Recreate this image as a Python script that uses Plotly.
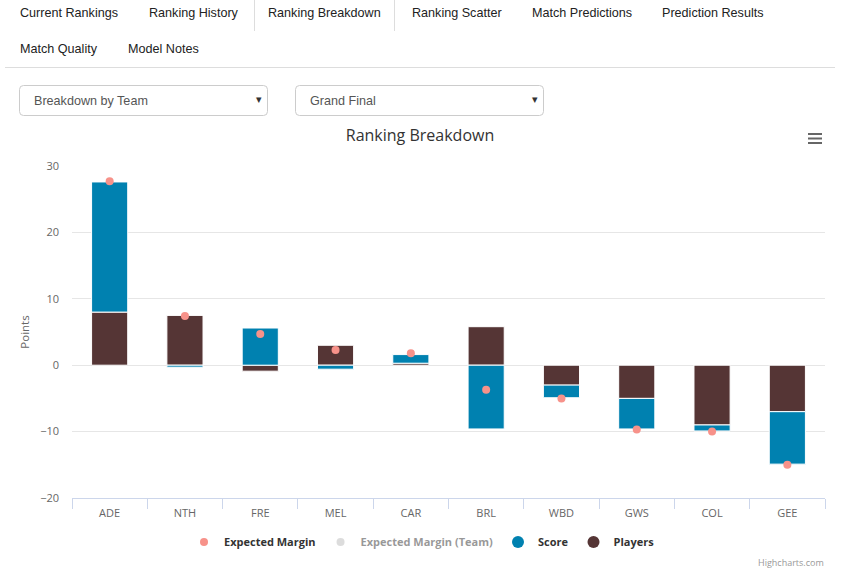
import plotly.graph_objects as go

# ---------------- data ----------------
teams = ["ADE", "NTH", "FRE", "MEL", "CAR", "BRL", "WBD", "GWS", "COL", "GEE"]
players = [8.0, 7.5, -0.9, 3.0, 0.3, 5.8, -3.0, -5.0, -9.0, -7.0]
score = [19.6, -0.3, 5.6, -0.6, 1.3, -9.6, -1.9, -4.6, -0.9, -7.9]
expected_margin = [27.7, 7.4, 4.7, 2.3, 1.8, -3.7, -5.0, -9.7, -10.0, -15.0]
expected_margin_team = [None] * len(teams)  # series hidden in the legend
y_ticks = [-20, -10, 0, 10, 20, 30]

tabs_row1 = ["Current Rankings", "Ranking History", "Ranking Breakdown",
             "Ranking Scatter", "Match Predictions", "Prediction Results"]
tabs_row2 = ["Match Quality", "Model Notes"]
dropdowns = ["Breakdown by Team", "Grand Final"]

# ---------------- geometry helpers ----------------
W, H = 851, 572
L, R, T, B = 72, 26, 166, 74
PW, PH = W - L - R, H - T - B


def px(x):
    return (x - L) / PW


def py(y):
    return (H - B - y) / PH


COL_SCORE = "#0081b0"
COL_PLAYERS = "#553535"
COL_EXP = "#f7928a"
CHART_FONT = "Open Sans"
PAGE_FONT = "Liberation Sans"

fig = go.Figure()

fig.add_trace(go.Bar(
    x=teams, y=players, name="Players", width=0.48,
    marker=dict(color=COL_PLAYERS, line=dict(color="#ffffff", width=1)),
    showlegend=False, legendgroup="players"))
fig.add_trace(go.Bar(
    x=teams, y=score, name="Score", width=0.48,
    marker=dict(color=COL_SCORE, line=dict(color="#ffffff", width=1)),
    showlegend=False, legendgroup="score"))
fig.add_trace(go.Scatter(
    x=teams, y=expected_margin, name="Expected Margin", mode="markers",
    marker=dict(color=COL_EXP, size=8), legendrank=1))
fig.add_trace(go.Scatter(
    x=teams, y=expected_margin_team, name="Expected Margin (Team)", mode="markers",
    marker=dict(color="#bbbbbb", size=8), visible="legendonly", legendrank=2))
# legend entries with circular symbols for the column series
fig.add_trace(go.Scatter(
    x=[None], y=[None], name="Score", mode="markers",
    marker=dict(color=COL_SCORE, size=12), legendgroup="score", legendrank=3))
fig.add_trace(go.Scatter(
    x=[None], y=[None], name="Players", mode="markers",
    marker=dict(color=COL_PLAYERS, size=12), legendgroup="players", legendrank=4))

shapes = []
annotations = []

# tabs
row1_x = [20, 149, 268, 412, 532, 662]
for label, x in zip(tabs_row1, row1_x):
    annotations.append(dict(text=label, x=px(x - 2), y=py(13), xref="paper", yref="paper",
                            xanchor="left", yanchor="middle", showarrow=False,
                            font=dict(family=PAGE_FONT, size=12.6, color="#222222")))
row2_x = [20, 128]
for label, x in zip(tabs_row2, row2_x):
    annotations.append(dict(text=label, x=px(x - 2), y=py(49), xref="paper", yref="paper",
                            xanchor="left", yanchor="middle", showarrow=False,
                            font=dict(family=PAGE_FONT, size=12.6, color="#222222")))
# active tab borders
for x in (254.5, 394.5):
    shapes.append(dict(type="line", xref="paper", yref="paper",
                       x0=px(x), x1=px(x), y0=py(0), y1=py(31),
                       line=dict(color="#dddddd", width=1)))
# underline of the tab bar
shapes.append(dict(type="line", xref="paper", yref="paper",
                   x0=px(5), x1=px(835), y0=py(67.5), y1=py(67.5),
                   line=dict(color="#dddddd", width=1)))


def rounded_rect(x0, y0, x1, y1, r=4):
    rx, ry = r / PW, r / PH
    X0, X1, Y0, Y1 = px(x0), px(x1), py(y0), py(y1)  # Y0 top, Y1 bottom
    return (f"M {X0 + rx} {Y0} L {X1 - rx} {Y0} Q {X1} {Y0} {X1} {Y0 - ry} "
            f"L {X1} {Y1 + ry} Q {X1} {Y1} {X1 - rx} {Y1} "
            f"L {X0 + rx} {Y1} Q {X0} {Y1} {X0} {Y1 + ry} "
            f"L {X0} {Y0 - ry} Q {X0} {Y0} {X0 + rx} {Y0} Z")


box_x = [(19.5, 267.5), (295.5, 543.5)]
for label, (x0, x1) in zip(dropdowns, box_x):
    shapes.append(dict(type="path", xref="paper", yref="paper",
                       path=rounded_rect(x0, 85.5, x1, 115.5),
                       line=dict(color="#cccccc", width=1), fillcolor="#ffffff"))
    annotations.append(dict(text=label, x=px(x0 + 12.5), y=py(100.5), xref="paper", yref="paper",
                            xanchor="left", yanchor="middle", showarrow=False,
                            font=dict(family=PAGE_FONT, size=12.6, color="#555555")))
    annotations.append(dict(text="▾", x=px(x1 - 9), y=py(99.5), xref="paper", yref="paper",
                            xanchor="center", yanchor="middle", showarrow=False,
                            font=dict(family="DejaVu Sans", size=11, color="#333333")))

# context menu (hamburger) icon
for yy in (134, 138.5, 143):
    shapes.append(dict(type="line", xref="paper", yref="paper",
                       x0=px(808), x1=px(822), y0=py(yy), y1=py(yy),
                       line=dict(color="#666666", width=2)))

# credits
annotations.append(dict(text="Highcharts.com", x=px(826), y=py(562), xref="paper", yref="paper",
                        xanchor="right", yanchor="middle", showarrow=False,
                        font=dict(family=CHART_FONT, size=9, color="#999999")))

fig.update_layout(
    width=W, height=H,
    margin=dict(l=L, r=R, t=T, b=B, pad=0),
    paper_bgcolor="#ffffff", plot_bgcolor="#ffffff",
    barmode="relative", bargap=0.52,
    title=dict(text="Ranking Breakdown", x=420 / W, xanchor="center",
               y=1 - 135 / H, yanchor="middle",
               font=dict(family=CHART_FONT, size=16, color="#333333")),
    font=dict(family=CHART_FONT, color="#666666"),
    legend=dict(orientation="h", x=px(422), xanchor="center", y=py(542), yanchor="middle",
                font=dict(family=CHART_FONT, size=11, color="#333333", weight="bold"),
                itemclick=False, itemdoubleclick=False, traceorder="normal"),
    xaxis=dict(type="category", range=[-0.5, len(teams) - 0.5],
               showline=True, linecolor="#ccd6eb", linewidth=1,
               ticks="outside", tickson="boundaries", ticklen=10, tickcolor="#ccd6eb",
               ticklabelstandoff=5,
               showgrid=False, tickfont=dict(family=CHART_FONT, size=11, color="#666666"),
               fixedrange=True),
    yaxis=dict(range=[-20, 30], tickvals=y_ticks, showgrid=True, gridcolor="#e6e6e6",
               zeroline=False, showline=False, ticks="",
               tickfont=dict(family=CHART_FONT, size=11, color="#666666"),
               ticklabelstandoff=12,
               title=dict(text="Points", standoff=8,
                          font=dict(family=CHART_FONT, size=11.5, color="#666666")),
               fixedrange=True),
    shapes=shapes, annotations=annotations,
    hovermode="x",
)

fig.write_html("out.html", config={"displayModeBar": False},
               post_script="document.body.style.margin='0';")
